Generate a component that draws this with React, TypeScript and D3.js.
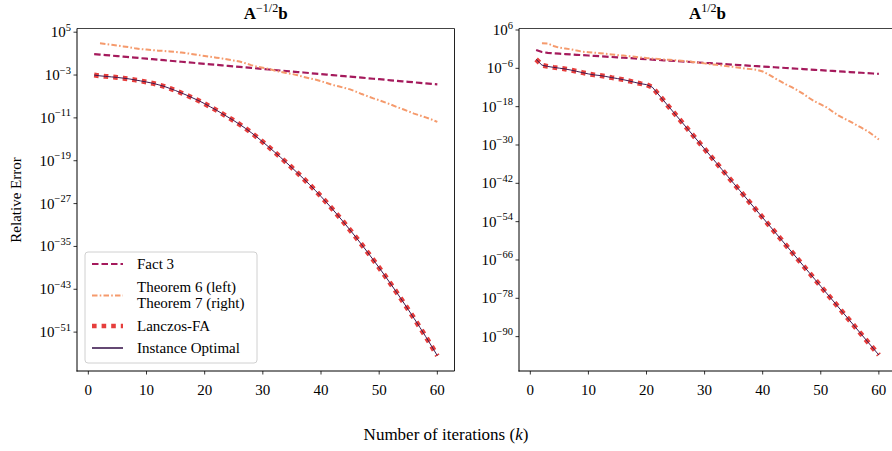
import React from "react";
import * as d3 from "d3";

// ---------- DATA (log10 of relative error) ----------
const iterations = d3.range(1, 61); // k = 1..60
const theoremIterations = d3.range(2, 61); // k = 2..60

const leftFact3 = [
  0.92, 0.82, 0.73, 0.63, 0.54, 0.44, 0.34, 0.25, 0.15, 0.06,
  -0.04, -0.14, -0.23, -0.33, -0.42, -0.52, -0.61, -0.71, -0.81, -0.9,
  -1.0, -1.1, -1.19, -1.29, -1.38, -1.48, -1.57, -1.67, -1.77, -1.86,
  -1.96, -2.06, -2.15, -2.25, -2.34, -2.44, -2.53, -2.63, -2.73, -2.82,
  -2.92, -3.02, -3.11, -3.21, -3.3, -3.4, -3.49, -3.59, -3.69, -3.78,
  -3.88, -3.98, -4.07, -4.17, -4.26, -4.36, -4.45, -4.55, -4.65, -4.74,
];
const leftTheorem6 = [
  2.92, 2.8, 2.65, 2.5, 2.35, 2.2, 2.0, 1.85, 1.75,
  1.65, 1.55, 1.5, 1.4, 1.32, 1.2, 1.05, 0.9, 0.72, 0.55,
  0.4, 0.25, 0.1, -0.1, -0.3, -0.48, -0.8, -1.15, -1.45, -1.65,
  -1.85, -2.15, -2.4, -2.6, -2.8, -3.05, -3.35, -3.6, -3.85, -4.15,
  -4.5, -4.85, -5.1, -5.4, -5.67, -6.1, -6.55, -6.95, -7.35, -7.7,
  -8.1, -8.5, -8.95, -9.35, -9.75, -10.2, -10.55, -10.9, -11.3, -11.75,
];
const leftLanczos = [
  -3.0, -3.15, -3.25, -3.35, -3.45, -3.58, -3.72, -3.9, -4.1, -4.3,
  -4.52, -4.8, -5.1, -5.5, -5.9, -6.35, -6.8, -7.3, -7.8, -8.35,
  -8.95, -9.55, -10.2, -10.85, -11.5, -12.2, -12.95, -13.75, -14.6, -15.5,
  -16.42, -17.36, -18.32, -19.3, -20.3, -21.32, -22.36, -23.42, -24.52, -25.67,
  -26.85, -28.07, -29.33, -30.62, -31.94, -33.29, -34.67, -36.08, -37.52, -38.99,
  -40.49, -42.02, -43.58, -45.17, -46.79, -48.44, -50.12, -51.84, -53.6, -55.4,
];
const leftInstance = [
  -3.0, -3.15, -3.25, -3.35, -3.45, -3.58, -3.72, -3.9, -4.1, -4.3,
  -4.52, -4.8, -5.1, -5.5, -5.9, -6.35, -6.8, -7.3, -7.8, -8.35,
  -8.95, -9.55, -10.2, -10.85, -11.5, -12.2, -12.95, -13.75, -14.6, -15.5,
  -16.42, -17.36, -18.32, -19.3, -20.3, -21.32, -22.36, -23.42, -24.52, -25.67,
  -26.85, -28.07, -29.33, -30.62, -31.94, -33.29, -34.67, -36.08, -37.52, -38.99,
  -40.49, -42.02, -43.58, -45.17, -46.79, -48.44, -50.12, -51.84, -53.6, -55.4,
];

const rightFact3 = [
  -0.27, -0.9, -1.15, -1.3, -1.42, -1.53, -1.64, -1.76, -1.87, -1.99,
  -2.1, -2.22, -2.33, -2.45, -2.56, -2.68, -2.79, -2.91, -3.02, -3.14,
  -3.25, -3.37, -3.48, -3.6, -3.71, -3.83, -3.94, -4.06, -4.17, -4.29,
  -4.4, -4.52, -4.63, -4.75, -4.86, -4.98, -5.09, -5.21, -5.32, -5.44,
  -5.55, -5.67, -5.78, -5.9, -6.01, -6.13, -6.24, -6.36, -6.47, -6.59,
  -6.7, -6.82, -6.93, -7.05, -7.16, -7.28, -7.39, -7.51, -7.62, -7.74,
];
const rightTheorem7 = [
  1.85, 1.8, 1.0, 0.45, 0.2, -0.05, -0.45, -0.8, -0.95,
  -1.1, -1.25, -1.45, -1.65, -1.85, -2.0, -2.2, -2.4, -2.6, -2.8,
  -2.95, -3.1, -3.25, -3.35, -3.5, -3.65, -3.8, -4.0, -4.25, -4.45,
  -4.7, -4.9, -5.1, -5.35, -5.55, -5.8, -6.05, -6.25, -6.5, -7.0,
  -7.9, -9.0, -10.0, -11.0, -11.9, -12.9, -14.0, -15.3, -16.4, -17.3,
  -18.2, -19.5, -20.7, -21.7, -22.6, -23.6, -24.6, -25.6, -26.9, -28.3,
];
const rightLanczos = [
  -3.2, -5.0, -5.4, -5.7, -5.95, -6.2, -6.55, -6.95, -7.35, -7.75,
  -8.05, -8.25, -8.55, -8.9, -9.2, -9.55, -9.95, -10.4, -10.8, -11.1,
  -11.9, -14.05, -16.2, -18.35, -20.5, -22.65, -24.8, -26.95, -29.1, -31.25,
  -33.4, -35.55, -37.7, -39.85, -42.0, -44.15, -46.3, -48.45, -50.6, -52.75,
  -54.9, -57.05, -59.2, -61.35, -63.5, -65.65, -67.8, -69.95, -72.1, -74.25,
  -76.4, -78.55, -80.7, -82.85, -85.0, -87.15, -89.3, -91.45, -93.6, -95.75,
];
const rightInstance = [
  -3.2, -5.0, -5.4, -5.7, -5.95, -6.2, -6.55, -6.95, -7.35, -7.75,
  -8.05, -8.25, -8.55, -8.9, -9.2, -9.55, -9.95, -10.4, -10.8, -11.1,
  -11.9, -14.05, -16.2, -18.35, -20.5, -22.65, -24.8, -26.95, -29.1, -31.25,
  -33.4, -35.55, -37.7, -39.85, -42.0, -44.15, -46.3, -48.45, -50.6, -52.75,
  -54.9, -57.05, -59.2, -61.35, -63.5, -65.65, -67.8, -69.95, -72.1, -74.25,
  -76.4, -78.55, -80.7, -82.85, -85.0, -87.15, -89.3, -91.45, -93.6, -95.75,
];

const xTicks = [0, 10, 20, 30, 40, 50, 60];
const leftYTickExps = [5, -3, -11, -19, -27, -35, -43, -51];
const rightYTickExps = [6, -6, -18, -30, -42, -54, -66, -78, -90];

const legendLabels = ["Fact 3", "Theorem 6 (left)|Theorem 7 (right)", "Lanczos-FA", "Instance Optimal"];

// ---------- STYLE ----------
const FONT = "'Liberation Serif', 'Times New Roman', Times, serif";
const C_FACT = "#a51a5c";
const C_THM = "#f59a6c";
const C_LAN = "#e63e3c";
const C_INST = "#3d1a50";

const styles = {
  fact: { stroke: C_FACT, width: 2.2, dash: "6.5,3" },
  thm: { stroke: C_THM, width: 2, dash: "5.5,2.2,1.6,2.2" },
  lan: { stroke: C_LAN, width: 5, dash: "4.6,5" },
  inst: { stroke: C_INST, width: 1, dash: "" },
};

type Panel = {
  x0: number; x1: number; y0: number; y1: number;
  yDomainExp: [number, number];
  yTicks: number[];
  title: string;
  sup: string;
  fact: number[]; thm: number[]; lan: number[]; inst: number[];
};

const panels: Panel[] = [
  {
    x0: 77, x1: 454.5, y0: 28.5, y1: 371,
    yDomainExp: [-58.26, 5.69], yTicks: leftYTickExps,
    title: "A", sup: "\u22121/2",
    fact: leftFact3, thm: leftTheorem6, lan: leftLanczos, inst: leftInstance,
  },
  {
    x0: 519, x1: 896, y0: 28.5, y1: 371,
    yDomainExp: [-100.76, 6.47], yTicks: rightYTickExps,
    title: "A", sup: "1/2",
    fact: rightFact3, thm: rightTheorem7, lan: rightLanczos, inst: rightInstance,
  },
];

function PanelView({ p, idx }: { p: Panel; idx: number }) {
  const x = d3.scaleLinear().domain([-1.95, 62.95]).range([p.x0, p.x1]);
  const y = d3.scaleLog()
    .domain([Math.pow(10, p.yDomainExp[0]), Math.pow(10, p.yDomainExp[1])])
    .range([p.y1, p.y0]);
  const line = d3.line<[number, number]>()
    .x((d) => x(d[0]))
    .y((d) => y(Math.pow(10, d[1])));
  const pts = (ks: number[], vs: number[]) => ks.map((k, i) => [k, vs[i]] as [number, number]);
  const clipId = `clip${idx}`;
  const titleCx = (p.x0 + p.x1) / 2;
  return (
    <g>
      <defs>
        <clipPath id={clipId}>
          <rect x={p.x0} y={p.y0} width={p.x1 - p.x0} height={p.y1 - p.y0} />
        </clipPath>
      </defs>
      <g clipPath={`url(#${clipId})`} fill="none">
        <path d={line(pts(iterations, p.fact)) || ""} stroke={styles.fact.stroke} strokeWidth={styles.fact.width} strokeDasharray={styles.fact.dash} />
        <path d={line(pts(theoremIterations, p.thm)) || ""} stroke={styles.thm.stroke} strokeWidth={styles.thm.width} strokeDasharray={styles.thm.dash} />
        <path d={line(pts(iterations, p.lan)) || ""} stroke={styles.lan.stroke} strokeWidth={styles.lan.width} strokeDasharray={styles.lan.dash} />
        <path d={line(pts(iterations, p.inst)) || ""} stroke={styles.inst.stroke} strokeWidth={styles.inst.width} />
      </g>
      {/* spines */}
      <line x1={p.x0} x2={p.x1} y1={p.y0} y2={p.y0} stroke="#444" strokeWidth={1} />
      <line x1={p.x1} x2={p.x1} y1={p.y0} y2={p.y1} stroke="#222" strokeWidth={1} />
      <line x1={p.x0} x2={p.x0} y1={p.y0} y2={p.y1 + 0.5} stroke="#000" strokeWidth={1} />
      <line x1={p.x0 - 0.5} x2={p.x1} y1={p.y1} y2={p.y1} stroke="#000" strokeWidth={1} />
      {/* x ticks */}
      {xTicks.map((t) => (
        <g key={t}>
          <line x1={x(t)} x2={x(t)} y1={p.y1} y2={p.y1 + 3.5} stroke="#000" strokeWidth={0.8} />
          <text x={x(t)} y={p.y1 + 24} textAnchor="middle" fontSize={15} fontFamily={FONT}>{t}</text>
        </g>
      ))}
      {/* y ticks */}
      {p.yTicks.map((e) => {
        const yy = y(Math.pow(10, e));
        const sup = e < 0 ? `\u2212${-e}` : `${e}`;
        return (
          <g key={e}>
            <line x1={p.x0 - 3.5} x2={p.x0} y1={yy} y2={yy} stroke="#000" strokeWidth={0.8} />
            <text x={p.x0 - 6} y={yy + 5} textAnchor="end" fontFamily={FONT} fontSize={15}>
              10<tspan fontSize={10.5} dy={-6.5}>{sup}</tspan>
            </text>
          </g>
        );
      })}
      {/* title */}
      <text x={titleCx} y={18.5} textAnchor="middle" fontFamily={FONT} fontSize={17}>
        <tspan fontWeight="bold">{p.title}</tspan>
        <tspan fontSize={12} dy={-7}>{p.sup}</tspan>
        <tspan fontWeight="bold" dy={7}>b</tspan>
      </text>
    </g>
  );
}

function Legend() {
  const bx = 85, by = 252, bw = 172, bh = 111;
  const hx0 = 92, hx1 = 123, tx = 137;
  const rows = [
    { key: "fact", hy: 264, texts: [{ t: legendLabels[0], y: 269 }] },
    { key: "thm", hy: 295.5, texts: [{ t: legendLabels[1].split("|")[0], y: 292 }, { t: legendLabels[1].split("|")[1], y: 308 }] },
    { key: "lan", hy: 326, texts: [{ t: legendLabels[2], y: 331 }] },
    { key: "inst", hy: 348, texts: [{ t: legendLabels[3], y: 353 }] },
  ];
  return (
    <g>
      <rect x={bx} y={by} width={bw} height={bh} rx={3} fill="#fff" fillOpacity={0.8} stroke="#d0d0d0" strokeWidth={1} />
      {rows.map((r) => {
        const s = (styles as any)[r.key];
        return (
          <g key={r.key}>
            <line x1={hx0} x2={hx1} y1={r.hy} y2={r.hy} stroke={s.stroke} strokeWidth={r.key === "inst" ? 1.6 : r.key === "lan" ? 4.4 : s.width} strokeDasharray={s.dash || undefined} />
            {r.texts.map((tt, i) => (
              <text key={i} x={tx} y={tt.y} fontFamily={FONT} fontSize={15}>{tt.t}</text>
            ))}
          </g>
        );
      })}
    </g>
  );
}

export default function App() {
  return (
    <svg width={892} height={451} style={{ position: "absolute", left: 0, top: 0, background: "#fff" }}>
      <rect width={892} height={451} fill="#fff" />
      {panels.map((p, i) => <PanelView key={i} p={p} idx={i} />)}
      <Legend />
      <text transform="translate(21,200) rotate(-90)" textAnchor="middle" fontFamily={FONT} fontSize={15}>Relative Error</text>
      <text x={446} y={440} textAnchor="middle" fontFamily={FONT} fontSize={17}>
        Number of iterations (<tspan fontStyle="italic">k</tspan>)
      </text>
    </svg>
  );
}
